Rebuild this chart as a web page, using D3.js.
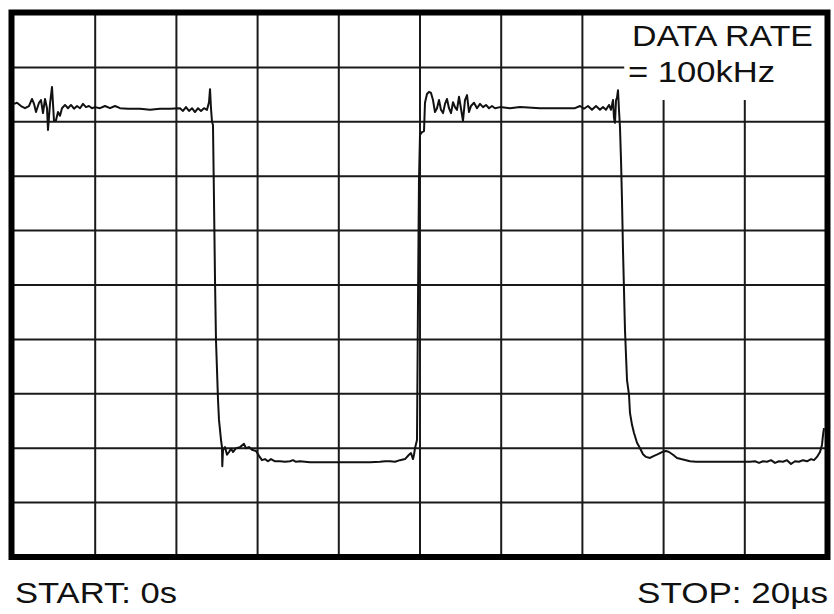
<!DOCTYPE html>
<html>
<head>
<meta charset="utf-8">
<script src="https://cdn.jsdelivr.net/npm/d3@7"></script>
<style>
  html, body { margin: 0; padding: 0; background: #fff; }
  svg { display: block; }
  text { font-family: "Liberation Sans", Arial, Helvetica, sans-serif; fill: #111; }
</style>
</head>
<body>
<svg id="chart" width="834" height="614"></svg>
<script>
// ---- data (time in µs, level in screen divisions) ----
const timeDomain = [0, 20];          // START 0s .. STOP 20µs
const levelDomain = [0, 10];         // 10 vertical divisions
const timeGridTicks = [2, 4, 6, 8, 10, 12, 14, 16, 18];
const levelGridTicks = [1, 2, 3, 4, 5, 6, 7, 8, 9];

const highPulse1 = [
  [0,8.33],[0.074,8.35],[0.172,8.29],[0.271,8.25],[0.369,8.29],[0.443,8.42],[0.493,8.33],[0.542,8.18],
  [0.616,8.35],[0.665,8.40],[0.714,8.16],[0.764,8.42],[0.813,8.25],[0.837,7.85],[0.887,8.33],[0.936,8.64],
  [0.985,8.02],[1.034,8.03],[1.084,8.18],[1.133,8.11],[1.182,8.25],[1.256,8.31],[1.330,8.25],[1.404,8.31],
  [1.478,8.24],[1.552,8.29],[1.626,8.25],[1.700,8.33],[1.773,8.27],[1.847,8.29],[1.921,8.25],[1.995,8.27],
  [2.118,8.25],[2.241,8.29],[2.365,8.25],[2.488,8.29],[2.611,8.25],[2.808,8.24],[3.103,8.24],[3.350,8.22],
  [3.596,8.24],[3.842,8.24],[4.089,8.25],[4.163,8.20],[4.236,8.27],[4.310,8.20],[4.384,8.25],[4.458,8.18],
  [4.532,8.25],[4.606,8.20],[4.680,8.25],[4.754,8.22],[4.803,8.36],[4.828,8.60],[4.852,8.25],[4.877,8.00]
];
const lowPulse1 = [
  [4.901,7.94],[4.926,6.56],[4.951,5.09],[4.975,3.99],[5.000,3.44],[5.025,2.89],[5.049,2.52],[5.099,2.15],
  [5.123,2.02],[5.130,1.67],[5.148,1.97],[5.197,2.02],[5.246,1.88],[5.296,1.93],[5.345,1.99],[5.394,1.93],
  [5.468,2.00],[5.567,2.02],[5.665,2.08],[5.714,2.00],[5.788,2.02],[5.862,1.97],[5.961,1.95],[6.034,1.86],
  [6.108,1.78],[6.182,1.80],[6.256,1.76],[6.330,1.80],[6.429,1.76],[6.552,1.76],[6.675,1.75],[6.798,1.76],
  [6.872,1.78],[6.946,1.75],[7.044,1.76],[7.167,1.75],[7.291,1.74],[8.030,1.74],[8.768,1.74],[9.015,1.75],
  [9.138,1.76],[9.261,1.76],[9.384,1.75],[9.507,1.78],[9.631,1.80],[9.729,1.88],[9.778,1.91],[9.828,1.80],
  [9.852,1.88],[9.877,2.00]
];
const highPulse2 = [
  [9.926,2.15],[9.951,4.72],[9.975,6.93],[10.000,7.76],[10.049,7.81],[10.099,7.83],[10.123,8.35],[10.172,8.51],
  [10.222,8.55],[10.271,8.53],[10.320,8.40],[10.369,8.18],[10.419,8.25],[10.468,8.40],[10.517,8.22],[10.567,8.16],
  [10.616,8.33],[10.665,8.42],[10.714,8.25],[10.764,8.16],[10.813,8.36],[10.862,8.27],[10.911,8.22],[10.961,8.46],
  [11.010,8.24],[11.059,8.02],[11.108,8.40],[11.158,8.49],[11.207,8.18],[11.256,8.29],[11.330,8.35],[11.404,8.25],
  [11.478,8.33],[11.552,8.27],[11.626,8.31],[11.700,8.25],[11.773,8.29],[11.847,8.25],[11.970,8.27],[12.217,8.25],
  [12.463,8.27],[12.956,8.25],[13.448,8.25],[13.818,8.25],[13.941,8.29],[14.039,8.24],[14.138,8.29],[14.236,8.22],
  [14.335,8.29],[14.433,8.22],[14.507,8.27],[14.581,8.22],[14.655,8.31],[14.704,8.22],[14.754,8.40],[14.778,8.07],
  [14.803,7.98],[14.828,8.40],[14.852,8.44],[14.877,8.58],[14.901,8.22],[14.926,7.89]
];
const lowPulse2 = [
  [14.951,7.30],[14.975,6.56],[15.000,5.64],[15.049,4.17],[15.099,3.25],[15.148,2.98],[15.172,2.65],[15.222,2.43],
  [15.271,2.28],[15.345,2.10],[15.419,2.00],[15.493,1.89],[15.567,1.84],[15.665,1.82],[15.764,1.86],[15.862,1.89],
  [15.961,1.93],[16.059,1.95],[16.133,1.93],[16.232,1.88],[16.330,1.82],[16.429,1.80],[16.552,1.78],[16.650,1.76],
  [16.798,1.75],[16.970,1.75],[18.128,1.75],[18.251,1.76],[18.350,1.73],[18.448,1.76],[18.547,1.75],[18.645,1.78],
  [18.744,1.73],[18.842,1.76],[18.941,1.75],[19.039,1.78],[19.138,1.71],[19.236,1.76],[19.335,1.75],[19.433,1.78],
  [19.532,1.76],[19.631,1.80],[19.704,1.78],[19.778,1.84],[19.852,1.93],[19.901,2.06],[19.926,2.24],[19.951,2.37]
];
const rateLabel = ["DATA RATE", "= 100kHz"];
const startLabel = "START: 0s";
const stopLabel = "STOP: 20\u00B5s";

// ---- drawing ----
const svg = d3.select("#chart");
const x = d3.scaleLinear().domain(timeDomain).range([14, 826]);
const y = d3.scaleLinear().domain(levelDomain).range([557, 13]);

svg.append("rect").attr("width", 834).attr("height", 614).attr("fill", "#fff");

const grid = svg.append("g").attr("stroke", "#1a1a1a").attr("stroke-width", 2);
grid.selectAll("line.v").data(timeGridTicks).join("line")
  .attr("class", "v")
  .attr("x1", d => x(d)).attr("x2", d => x(d))
  .attr("y1", y(10)).attr("y2", y(0));
grid.selectAll("line.h").data(levelGridTicks).join("line")
  .attr("class", "h")
  .attr("x1", x(0)).attr("x2", x(20))
  .attr("y1", d => y(d)).attr("y2", d => y(d));

// label box masking the grid in the upper right
svg.append("rect")
  .attr("x", x(15.03)).attr("y", y(10))
  .attr("width", x(20) - x(15.03)).attr("height", y(8.4) - y(10))
  .attr("fill", "#fff");

const line = d3.line().x(d => x(d[0])).y(d => y(d[1]));
const trace = [].concat(highPulse1, lowPulse1, highPulse2, lowPulse2);
svg.append("path")
  .datum(trace)
  .attr("d", line)
  .attr("fill", "none")
  .attr("stroke", "#111")
  .attr("stroke-width", 2)
  .attr("stroke-linejoin", "round");

// frame
svg.append("rect")
  .attr("x", x(0) - 2.5).attr("y", y(10) - 0.5)
  .attr("width", x(20) - x(0) + 4).attr("height", y(0) - y(10) + 0.5)
  .attr("fill", "none").attr("stroke", "#000").attr("stroke-width", 6);

// texts
svg.append("text").attr("x", 632).attr("y", 46)
  .attr("font-size", 29).attr("textLength", 181).attr("lengthAdjust", "spacingAndGlyphs")
  .text(rateLabel[0]);
svg.append("text").attr("x", 628).attr("y", 82)
  .attr("font-size", 29).attr("textLength", 147).attr("lengthAdjust", "spacingAndGlyphs")
  .text(rateLabel[1]);
svg.append("text").attr("x", 15).attr("y", 603)
  .attr("font-size", 29).attr("textLength", 162).attr("lengthAdjust", "spacingAndGlyphs")
  .text(startLabel);
svg.append("text").attr("x", 637).attr("y", 603)
  .attr("font-size", 29).attr("textLength", 191).attr("lengthAdjust", "spacingAndGlyphs")
  .text(stopLabel);
</script>
</body>
</html>
